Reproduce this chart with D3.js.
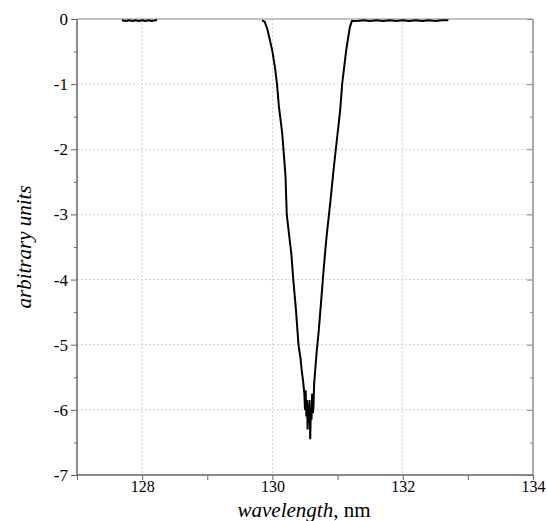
<!DOCTYPE html>
<html>
<head>
<meta charset="utf-8">
<script src="https://cdn.jsdelivr.net/npm/d3@7"></script>
<style>
  body { margin: 0; background: #fff; }
  svg text { font-family: Liberation Serif, DejaVu Serif, Times New Roman, serif; }
</style>
</head>
<body>
<svg id="chart"></svg>
<script>
// x ticks and y ticks
const xTicks = [128, 130, 132, 134];
const yTicks = [0, -1, -2, -3, -4, -5, -6, -7];

// flat noisy baseline segment on the left
const baseWave = [127.69, 127.75, 127.8, 127.85, 127.9, 127.95, 128.0, 128.05, 128.1, 128.15, 128.2, 128.23];
const baseSig  = [-0.02, -0.03, -0.02, -0.03, -0.02, -0.03, -0.02, -0.03, -0.02, -0.03, -0.02, -0.02];

// absorption dip
const dipWave = [129.84, 129.88, 129.92, 129.96, 130.0, 130.04, 130.07, 130.1, 130.15, 130.2, 130.22, 130.26,
  130.29, 130.32, 130.36, 130.4, 130.43, 130.45, 130.47, 130.49, 130.5, 130.51, 130.52, 130.53, 130.54,
  130.55, 130.56, 130.57, 130.58, 130.59, 130.6, 130.61, 130.62, 130.63, 130.64, 130.66, 130.68, 130.71,
  130.75, 130.79, 130.83, 130.89, 130.94, 130.99, 131.04, 131.07, 131.1, 131.13, 131.16, 131.19, 131.22,
  131.3, 131.4, 131.5, 131.6, 131.7, 131.8, 131.9, 132.0, 132.1, 132.2, 132.3, 132.4, 132.5, 132.6, 132.7];
const dipSig = [-0.02, -0.04, -0.15, -0.32, -0.5, -0.75, -1.0, -1.35, -1.75, -2.4, -3.0, -3.35,
  -3.6, -4.0, -4.45, -5.0, -5.2, -5.4, -5.55, -5.75, -6.0, -5.7, -6.1, -5.85, -6.3,
  -5.9, -6.2, -5.85, -6.45, -6.0, -6.15, -5.75, -6.05, -5.95, -5.6, -5.35, -5.1, -4.8,
  -4.3, -3.8, -3.35, -2.8, -2.3, -1.85, -1.4, -1.0, -0.75, -0.5, -0.3, -0.12, -0.03,
  -0.03, -0.02, -0.03, -0.02, -0.03, -0.02, -0.03, -0.02, -0.03, -0.02, -0.03, -0.02, -0.03, -0.02, -0.02];

const W = 547, H = 521;
const margin = {top: 19, right: 14, bottom: 46, left: 77};
const svg = d3.select("#chart").attr("width", W).attr("height", H);

const x = d3.scaleLinear().domain([127, 134]).range([margin.left, W - margin.right]);
const y = d3.scaleLinear().domain([-7, 0]).range([H - margin.bottom, margin.top]);

// grid
svg.append("g").selectAll("line").data([128, 130, 132]).join("line")
  .attr("x1", d => x(d)).attr("x2", d => x(d))
  .attr("y1", y(0)).attr("y2", y(-7))
  .attr("stroke", "#d0d0d0").attr("stroke-dasharray", "2,2");
svg.append("g").selectAll("line").data([-1, -2, -3, -4, -5, -6]).join("line")
  .attr("x1", x(127)).attr("x2", x(134))
  .attr("y1", d => y(d)).attr("y2", d => y(d))
  .attr("stroke", "#d0d0d0").attr("stroke-dasharray", "2,2");

// frame: top and right
svg.append("line").attr("x1", x(127)).attr("x2", x(134)).attr("y1", y(0)).attr("y2", y(0))
  .attr("stroke", "#888").attr("stroke-width", 1.2);
svg.append("line").attr("x1", x(134)).attr("x2", x(134)).attr("y1", y(0)).attr("y2", y(-7))
  .attr("stroke", "#aaa").attr("stroke-width", 2);

// right axis inward ticks
svg.append("g").attr("transform", `translate(${x(134)},0)`)
  .call(d3.axisLeft(y).tickValues(d3.range(-7, 0.01, 0.5)).tickSize(5).tickFormat(""))
  .call(g => g.select(".domain").remove())
  .call(g => g.selectAll("line").attr("stroke", "#888").attr("x2", (d) => Number.isInteger(d) ? -6 : -3));

// bottom axis
const xAxis = svg.append("g").attr("transform", `translate(0,${y(-7)})`)
  .call(d3.axisBottom(x).tickValues(d3.range(127, 134.01, 1)).tickSize(5)
    .tickFormat(d => xTicks.includes(d) ? d : ""));
xAxis.attr("font-family", null);
xAxis.select(".domain").attr("stroke", "#666").attr("stroke-width", 1.5).attr("d", `M${x(127)},0H${x(134)}`);
xAxis.selectAll("line").attr("stroke", "#666");
xAxis.selectAll("text").attr("font-size", 16).attr("fill", "#000").attr("y", 6).attr("dy", "0.71em");

// left axis
const yAxis = svg.append("g").attr("transform", `translate(${x(127)},0)`)
  .call(d3.axisLeft(y).tickValues(d3.range(-7, 0.01, 0.5)).tickSize(5)
    .tickFormat(d => yTicks.includes(d) ? (d === 0 ? "0" : "-" + Math.abs(d)) : ""));
yAxis.attr("font-family", null);
yAxis.select(".domain").attr("stroke", "#666").attr("stroke-width", 1.5).attr("d", `M0,${y(-7)}V${y(0)}`);
yAxis.selectAll("line").attr("stroke", "#666").attr("x2", d => Number.isInteger(d) ? -6 : -3);
yAxis.selectAll("text").attr("font-size", 17).attr("fill", "#000").attr("x", -9);

// data
svg.append("clipPath").attr("id", "clip").append("rect")
  .attr("x", x(127)).attr("y", y(0)).attr("width", x(134) - x(127)).attr("height", y(-7) - y(0));
const line = d3.line().x(d => x(d[0])).y(d => y(d[1]));
const series = [d3.zip(baseWave, baseSig), d3.zip(dipWave, dipSig)];
svg.append("g").attr("clip-path", "url(#clip)").selectAll("path").data(series).join("path")
  .attr("d", line).attr("fill", "none").attr("stroke", "#000").attr("stroke-width", 2)
  .attr("stroke-linejoin", "miter");

// titles
svg.append("text").attr("transform", `translate(31,${(y(0) + y(-7)) / 2}) rotate(-90)`)
  .attr("text-anchor", "middle").attr("font-size", 21).attr("font-style", "italic")
  .text("arbitrary units");
const xt = svg.append("text").attr("x", 304).attr("y", 517).attr("text-anchor", "middle")
  .attr("font-size", 21);
xt.append("tspan").attr("font-style", "italic").text("wavelength");
xt.append("tspan").text(", nm");
</script>
</body>
</html>
